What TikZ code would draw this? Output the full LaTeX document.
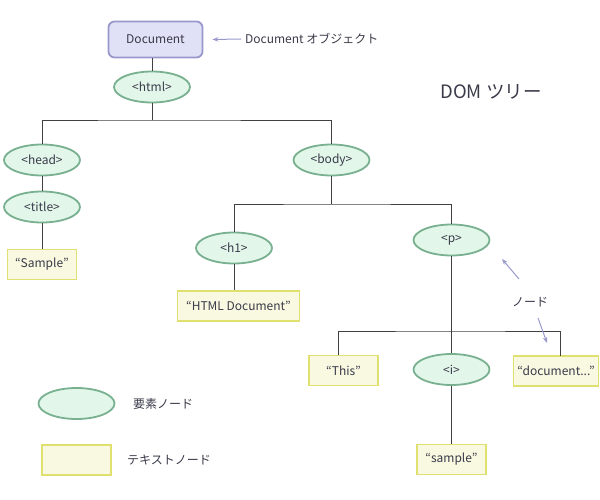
\documentclass[tikz,border=0pt]{standalone}
\usepackage{fontspec}
\setmainfont{Noto Sans CJK JP}
\usetikzlibrary{shapes.geometric,arrows.meta}
\definecolor{txt}{HTML}{3A3A4A}
\definecolor{elfill}{HTML}{E2F7EA}
\definecolor{eldraw}{HTML}{78B090}
\definecolor{txfill}{HTML}{F8F9E0}
\definecolor{txdraw}{HTML}{E0E070}
\definecolor{docfill}{HTML}{E0E0F6}
\definecolor{docdraw}{HTML}{9898CC}
\definecolor{arr}{HTML}{9898CC}
\begin{document}
\begin{tikzpicture}[x=1pt,y=-1pt,
  every node/.style={font=\fontsize{12}{14}\selectfont, text=txt},
  elnode/.style={ellipse, draw=eldraw, fill=elfill, line width=1.8pt, minimum width=76pt, minimum height=31pt, inner sep=0pt},
  txnode/.style={rectangle, draw=txdraw, fill=txfill, line width=1.8pt, minimum width=69pt, minimum height=30pt, inner sep=0pt},
  docnode/.style={rectangle, rounded corners=6pt, draw=docdraw, fill=docfill, line width=1.8pt, minimum width=94pt, minimum height=36pt, inner sep=0pt},
  conn/.style={draw=black!75, line width=0.8pt},
  pointer/.style={draw=arr, line width=1pt, -{Stealth[length=6pt,width=4.5pt]}},
  lbl/.style={anchor=west, inner sep=0pt}
]
\useasboundingbox (0,0) rectangle (600,500);
% nodes
\node[docnode] (doc) at (155.5,39.5) {Document};
\node[elnode] (html) at (152,87) {<html>};
\node[elnode] (head) at (42,160) {<head>};
\node[elnode] (title) at (42,207) {<title>};
\node[txnode] (sample1) at (42,264.5) {“Sample”};
\node[elnode] (body) at (331.5,160) {<body>};
\node[elnode] (h1) at (234,248) {<h1>};
\node[txnode, minimum width=122pt] (htmldoc) at (238.5,306) {“HTML Document”};
\node[elnode] (p) at (451.5,240) {<p>};
\node[txnode] (this) at (343.5,370.5) {“This”};
\node[elnode] (i) at (451.5,369.5) {<i>};
\node[txnode, minimum width=85pt] (docu) at (556,371) {“document...”};
\node[txnode] (sample2) at (451.5,459.5) {“sample”};
% junctions
\coordinate (j1) at (152,120);
\coordinate (j2) at (331.5,204);
\coordinate (j3) at (451.5,331);
% connectors
\draw[conn] (doc.south -| html.north) -- (html.north);
\draw[conn] (html.south) -- (j1);
\draw[conn] (head.north) |- (j1) -| (body.north);
\draw[conn] (head.south) -- (title.north);
\draw[conn] (title.south) -- (sample1.north);
\draw[conn] (body.south) -- (j2);
\draw[conn] (h1.north) |- (j2) -| (p.north);
\draw[conn] (h1.south) -- (h1.south |- htmldoc.north);
\draw[conn] (p.south) -- (j3);
\coordinate (tt) at (338.5,355);
\coordinate (dt) at (560.5,356);
\draw[conn] (tt) |- (j3) -| (dt);
\draw[conn] (j3) -- (i.north);
\draw[conn] (i.south) -- (sample2.north);
% annotations
\coordinate (a1s) at (241,39);
\draw[pointer] (a1s) -- ([xshift=9pt]doc.east);
\node[lbl] (doclbl) at (245,39) {Document オブジェクト};
\node[font=\fontsize{18.5}{20}\selectfont, text=txt] (domlbl) at (491,92) {DOM ツリー};
\node (nodelbl) at (530,302) {ノード};
\coordinate (b1s) at (519,279);
\coordinate (b1e) at (502,259);
\coordinate (b2s) at (538,318);
\coordinate (b2e) at (547,343);
\draw[pointer] (b1s) -- (b1e);
\draw[pointer] (b2s) -- (b2e);
% legend
\node[elnode] (legel) at (76.5,403.5) {};
\node[lbl] (legeltxt) at (133,404) {要素ノード};
\node[txnode] (legtx) at (76.5,460) {};
\node[lbl] (legtxtxt) at (127,460) {テキストノード};
\end{tikzpicture}
\end{document}
